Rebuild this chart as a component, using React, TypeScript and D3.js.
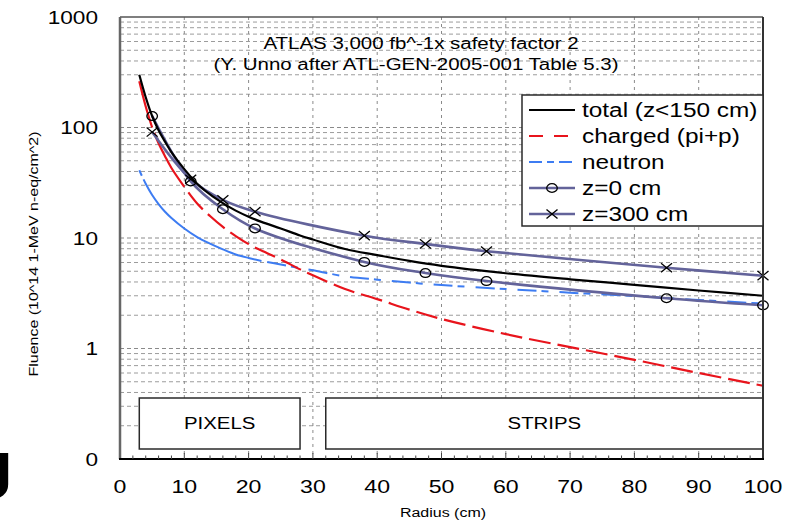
import React from "react";
import * as d3 from "d3";

// Radial fluence profile (units of 1e14 1-MeV n-eq / cm^2)
const radius = [3, 4, 5, 6, 7, 8, 10, 12, 14, 16, 18, 20, 22, 25, 28, 30, 35, 40, 45, 50, 60, 70, 80, 90, 100];
const total = [300, 188, 127, 94.5, 74.5, 60, 42, 31, 24.8, 20.7, 17.7, 15.6, 14.0, 12.2, 10.55, 9.7, 7.95, 7.0, 6.2, 5.6, 4.8, 4.23, 3.77, 3.35, 3.0];
const charged = [262, 155, 100, 72, 55, 43, 29, 20.5, 15.8, 12.6, 10.4, 8.8, 7.7, 6.4, 5.2, 4.6, 3.45, 2.8, 2.25, 1.85, 1.35, 1.03, 0.79, 0.6, 0.46];
const neutron = [41, 31, 24.5, 20.3, 17.3, 15.2, 12.2, 10.2, 8.9, 7.9, 7.1, 6.6, 6.2, 5.75, 5.35, 5.1, 4.5, 4.2, 3.95, 3.75, 3.45, 3.2, 2.98, 2.75, 2.55];

const markerRadius = [5, 11, 16, 21, 38, 47.5, 57, 85, 100];
const z0 = [127, 32.5, 18.2, 12.2, 6.07, 4.82, 4.08, 2.85, 2.46];
const z300 = [91, 34, 22.1, 17.3, 10.5, 8.83, 7.6, 5.38, 4.56];

const xTicks = [0, 10, 20, 30, 40, 50, 60, 70, 80, 90, 100];
const yTicks = [0.1, 1, 10, 100, 1000];
const yTickLabels = ["0", "1", "10", "100", "1000"];

const legendLabels = ["total (z<150 cm)", "charged (pi+p)", "neutron", "z=0 cm", "z=300 cm"];
const regionNames = ["PIXELS", "STRIPS"];
const regionSpans = [[3, 28], [32, 100]];

const titleLines = ["ATLAS 3,000 fb^-1x safety factor 2", "(Y. Unno after ATL-GEN-2005-001 Table 5.3)"];

const FONT = "'Liberation Sans', Arial, sans-serif";
const PURPLE = "#63639a";
const RED = "#e8141c";
const BLUE = "#3d7cf2";

const PL = 120, PR = 763, PT = 17, PB = 459;

const x = d3.scaleLinear().domain([0, 100]).range([PL, PR]);
const y = d3.scaleLog().domain([0.1, 1000]).range([PB, PT]);

type TProps = {
  x: number; y: number; size: number; sx?: number; anchor?: string;
  rotate?: number; weight?: string | number; fill?: string; children: React.ReactNode;
};

// Text with a wide aspect (glyphs stretched along the baseline)
function Label({ x, y, size, sx = 1.27, anchor = "start", rotate = 0, weight = "normal", fill = "#000", children }: TProps) {
  return (
    <text
      transform={`translate(${x},${y}) rotate(${rotate}) scale(${sx},1)`}
      fontSize={size}
      fontFamily={FONT}
      fontWeight={weight}
      textAnchor={anchor}
      fill={fill}
    >
      {children}
    </text>
  );
}

function Cross({ cx, cy }: { cx: number; cy: number }) {
  const w = 5.5, h = 4.6;
  return (
    <g stroke="#000" strokeWidth={1.3}>
      <line x1={cx - w} y1={cy - h} x2={cx + w} y2={cy + h} />
      <line x1={cx - w} y1={cy + h} x2={cx + w} y2={cy - h} />
    </g>
  );
}

function Ring({ cx, cy }: { cx: number; cy: number }) {
  return <ellipse cx={cx} cy={cy} rx={5.3} ry={4.4} fill="none" stroke="#000" strokeWidth={1.3} />;
}

export default function App() {
  const line = d3
    .line<[number, number]>()
    .x((d) => x(d[0]))
    .y((d) => y(d[1]))
    .curve(d3.curveCatmullRom.alpha(0.5));

  const pts = (rs: number[], vs: number[]) => rs.map((r, i) => [r, vs[i]] as [number, number]);

  const totalPts = pts(radius, total);
  const chargedPts = pts(radius, charged);
  const neutronPts = pts(radius, neutron);
  const iN = radius.indexOf(22);
  const iC1 = radius.indexOf(5);
  const iC2 = radius.indexOf(10);

  // log minor gridlines
  const minor: number[] = [];
  for (let e = -1; e < 3; e++) {
    for (let m = 2; m <= 9; m++) minor.push(m * Math.pow(10, e));
  }
  const xMinor = d3.range(2, 100, 2).filter((v) => v % 10 !== 0);

  const legendRows = [110, 136, 162, 188, 214];
  const lx0 = 529, lx1 = 575;

  return (
    <svg width={798} height={521} style={{ position: "absolute", left: 0, top: 0, background: "#fff" }}>
      <rect x={0} y={0} width={798} height={521} fill="#fff" />

      {/* horizontal grid */}
      {minor.map((v) => (
        <line key={"hm" + v} x1={PL} x2={PR} y1={y(v)} y2={y(v)} stroke="#9c9c9c" strokeWidth={1} strokeDasharray="4 3" />
      ))}
      {yTicks.slice(1, 4).map((v) => (
        <line key={"hM" + v} x1={PL} x2={PR} y1={y(v)} y2={y(v)} stroke="#8a8a8a" strokeWidth={1} strokeDasharray="4 3" />
      ))}
      {/* vertical grid */}
      {xTicks.slice(1, 10).map((v) => (
        <line key={"v" + v} x1={x(v)} x2={x(v)} y1={PT} y2={PB} stroke="#8a8a8a" strokeWidth={1} strokeDasharray="3 4" />
      ))}

      {/* title */}
      <Label x={421} y={49} size={16} sx={1.28} anchor="middle">{titleLines[0]}</Label>
      <Label x={416} y={70} size={16} sx={1.28} anchor="middle">{titleLines[1]}</Label>

      {/* detector regions */}
      {regionSpans.map((s, i) => (
        <g key={regionNames[i]}>
          <rect x={x(s[0])} y={398} width={x(s[1]) - x(s[0])} height={51} fill="#fff" stroke="#2a2a2a" strokeWidth={1.5} />
          <Label x={(x(s[0]) + x(s[1])) / 2} y={429} size={17} sx={1.2} anchor="middle">{regionNames[i]}</Label>
        </g>
      ))}

      {/* curves */}
      <path d={line(neutronPts.slice(0, iN + 1)) || ""} fill="none" stroke={BLUE} strokeWidth={2} strokeDasharray="6 4 2000" />
      <path d={line(neutronPts.slice(iN)) || ""} fill="none" stroke={BLUE} strokeWidth={2} strokeDasharray="0 6 19 5 7 5" />
      <path d={line(chargedPts.slice(0, iC1 + 1)) || ""} fill="none" stroke={RED} strokeWidth={2.2} />
      <path d={line(chargedPts.slice(iC1, iC2 + 1)) || ""} fill="none" stroke={RED} strokeWidth={2.2} strokeDasharray="0 6 2000" />
      <path d={line(chargedPts.slice(iC2)) || ""} fill="none" stroke={RED} strokeWidth={2.2} strokeDasharray="0 7 22 0" />
      <path d={line(pts(markerRadius, z0)) || ""} fill="none" stroke={PURPLE} strokeWidth={2.6} />
      <path d={line(pts(markerRadius, z300)) || ""} fill="none" stroke={PURPLE} strokeWidth={2.6} />
      <path d={line(totalPts) || ""} fill="none" stroke="#000" strokeWidth={2.2} />

      {markerRadius.map((r, i) => (
        <Ring key={"c" + r} cx={x(r)} cy={y(z0[i])} />
      ))}
      {markerRadius.map((r, i) => (
        <Cross key={"x" + r} cx={x(r)} cy={y(z300[i])} />
      ))}

      {/* frame and axes */}
      <line x1={PL} x2={PR} y1={PT} y2={PT} stroke="#555" strokeWidth={1.5} />
      <line x1={PR} x2={PR} y1={PT} y2={PB} stroke="#333" strokeWidth={2} />
      <line x1={PL} x2={PL} y1={PT} y2={PB} stroke="#666" strokeWidth={2.5} />
      <line x1={PL - 1} x2={PR + 1} y1={PB} y2={PB} stroke="#000" strokeWidth={2} />
      {xMinor.map((v) => (
        <line key={"tm" + v} x1={x(v)} x2={x(v)} y1={PB} y2={PB - 3.5} stroke="#444" strokeWidth={1} />
      ))}
      {xTicks.slice(1, 10).map((v) => (
        <line key={"tM" + v} x1={x(v)} x2={x(v)} y1={PB} y2={PB - 6} stroke="#444" strokeWidth={1} />
      ))}

      {/* tick labels */}
      {yTicks.map((v, i) => (
        <Label key={"yl" + v} x={98} y={y(v) + 6.5} size={17.7} sx={1.28} anchor="end">{yTickLabels[i]}</Label>
      ))}
      {xTicks.map((v) => (
        <Label key={"xl" + v} x={x(v)} y={493} size={18.5} sx={1.25} anchor="middle">{String(v)}</Label>
      ))}

      {/* axis titles */}
      <Label x={443} y={517} size={12.5} sx={1.28} anchor="middle">Radius (cm)</Label>
      <Label x={37.5} y={254} size={12.5} sx={1.28} anchor="middle" rotate={-90}>Fluence (10^14 1-MeV n-eq/cm^2)</Label>

      {/* legend */}
      <rect x={522} y={95} width={PR - 522} height={131} fill="#fff" stroke="#2a2a2a" strokeWidth={1.5} />
      <line x1={lx0} x2={lx1} y1={legendRows[0]} y2={legendRows[0]} stroke="#000" strokeWidth={2} />
      <line x1={lx0} x2={lx1} y1={legendRows[1]} y2={legendRows[1]} stroke={RED} strokeWidth={2} strokeDasharray="14 11" />
      <line x1={lx0} x2={lx1} y1={legendRows[2]} y2={legendRows[2]} stroke={BLUE} strokeWidth={2} strokeDasharray="13 5 7 5" />
      <line x1={lx0} x2={lx1} y1={legendRows[3]} y2={legendRows[3]} stroke={PURPLE} strokeWidth={2.4} />
      <line x1={lx0} x2={lx1} y1={legendRows[4]} y2={legendRows[4]} stroke={PURPLE} strokeWidth={2.4} />
      <Ring cx={552} cy={legendRows[3]} />
      <Cross cx={552} cy={legendRows[4]} />
      {legendLabels.map((s, i) => (
        <Label key={s} x={582} y={legendRows[i] + 7} size={19.5} sx={1.25}>{s}</Label>
      ))}

      {/* clipped glyph at the left edge */}
      <Label x={-33} y={499} size={66} sx={1.28} weight="bold">J</Label>
    </svg>
  );
}
